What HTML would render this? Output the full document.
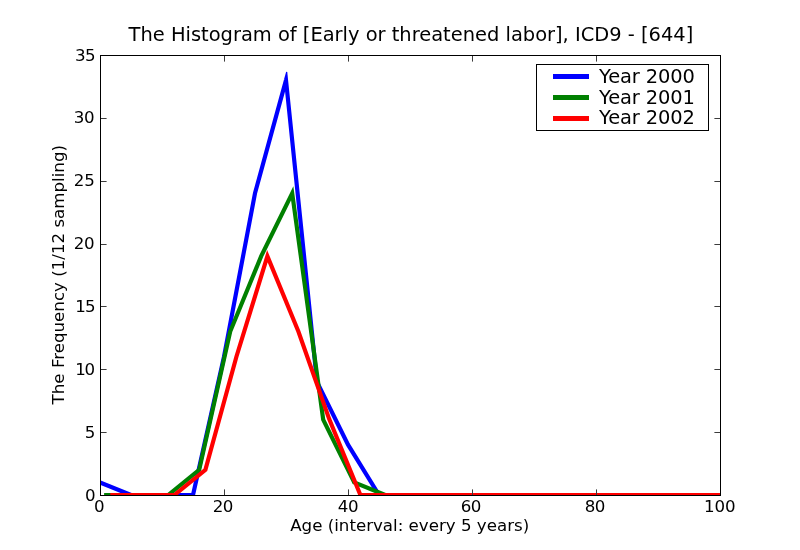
<!DOCTYPE html>
<html lang="en"><head><meta charset="utf-8"><title>The Histogram of [Early or threatened labor], ICD9 - [644]</title>
<style>html,body{margin:0;padding:0;background:#fff;}svg{display:block;will-change:transform;}text{font-family:"DejaVu Sans", "Liberation Sans", sans-serif;fill:#000;}</style></head><body>
<svg width="800" height="550" viewBox="0 0 800 550">
<rect x="0" y="0" width="800" height="550" fill="#ffffff"/>
<defs><clipPath id="ax"><rect x="100" y="55" width="620" height="440"/></clipPath></defs>
<g clip-path="url(#ax)" fill="none" stroke-width="4.17" stroke-linejoin="miter" stroke-miterlimit="4" stroke-linecap="square">
<polyline stroke="#0000ff" points="100.00,482.43 131.00,495.00 162.00,495.00 193.00,495.00 224.00,356.71 255.00,193.29 286.00,80.14 317.00,381.86 348.00,444.71 379.00,495.00 410.00,495.00 441.00,495.00 472.00,495.00 503.00,495.00 534.00,495.00 565.00,495.00 596.00,495.00 627.00,495.00 658.00,495.00 689.00,495.00 720.00,495.00 751.00,495.00"/>
<polygon fill="#0000ff" stroke="none" points="283.99,79.59 286.13,71.79 287.25,71.88 288.07,79.93 286.00,80.14"/>
<polyline stroke="#008000" points="106.20,495.00 137.20,495.00 168.20,495.00 199.20,469.86 230.20,331.57 261.20,256.14 292.20,193.29 323.20,419.57 354.20,482.43 385.20,495.00 416.20,495.00 447.20,495.00 478.20,495.00 509.20,495.00 540.20,495.00 571.20,495.00 602.20,495.00 633.20,495.00 664.20,495.00 695.20,495.00 726.20,495.00"/>
<polyline stroke="#ff0000" points="112.40,495.00 143.40,495.00 174.40,495.00 205.40,469.86 236.40,356.71 267.40,256.14 298.40,331.57 329.40,419.57 360.40,495.00 391.40,495.00 422.40,495.00 453.40,495.00 484.40,495.00 515.40,495.00 546.40,495.00 577.40,495.00 608.40,495.00 639.40,495.00 670.40,495.00 701.40,495.00 732.40,495.00"/>
</g>
<g stroke="#3c3c3c" stroke-width="1" fill="none">
<line x1="100.5" y1="495" x2="100.5" y2="489.4"/>
<line x1="100.5" y1="56" x2="100.5" y2="61.6"/>
<line x1="224.5" y1="495" x2="224.5" y2="489.4"/>
<line x1="224.5" y1="56" x2="224.5" y2="61.6"/>
<line x1="348.5" y1="495" x2="348.5" y2="489.4"/>
<line x1="348.5" y1="56" x2="348.5" y2="61.6"/>
<line x1="472.5" y1="495" x2="472.5" y2="489.4"/>
<line x1="472.5" y1="56" x2="472.5" y2="61.6"/>
<line x1="596.5" y1="495" x2="596.5" y2="489.4"/>
<line x1="596.5" y1="56" x2="596.5" y2="61.6"/>
<line x1="720.5" y1="495" x2="720.5" y2="489.4"/>
<line x1="720.5" y1="56" x2="720.5" y2="61.6"/>
<line x1="101" y1="495.5" x2="106.6" y2="495.5"/>
<line x1="720" y1="495.5" x2="714.4" y2="495.5"/>
<line x1="101" y1="432.5" x2="106.6" y2="432.5"/>
<line x1="720" y1="432.5" x2="714.4" y2="432.5"/>
<line x1="101" y1="369.5" x2="106.6" y2="369.5"/>
<line x1="720" y1="369.5" x2="714.4" y2="369.5"/>
<line x1="101" y1="306.5" x2="106.6" y2="306.5"/>
<line x1="720" y1="306.5" x2="714.4" y2="306.5"/>
<line x1="101" y1="244.5" x2="106.6" y2="244.5"/>
<line x1="720" y1="244.5" x2="714.4" y2="244.5"/>
<line x1="101" y1="181.5" x2="106.6" y2="181.5"/>
<line x1="720" y1="181.5" x2="714.4" y2="181.5"/>
<line x1="101" y1="118.5" x2="106.6" y2="118.5"/>
<line x1="720" y1="118.5" x2="714.4" y2="118.5"/>
<line x1="101" y1="55.5" x2="106.6" y2="55.5"/>
<line x1="720" y1="55.5" x2="714.4" y2="55.5"/>
</g>
<rect x="100.5" y="55.5" width="620" height="440" fill="none" stroke="#000" stroke-width="1" shape-rendering="crispEdges"/>
<g font-size="16.67px">
<text x="99.35" y="511.5" text-anchor="middle" letter-spacing="0">0</text>
<text x="222.85" y="511.5" text-anchor="middle" letter-spacing="-0.6">20</text>
<text x="347.90" y="511.5" text-anchor="middle" letter-spacing="-0.5">40</text>
<text x="470.85" y="511.5" text-anchor="middle" letter-spacing="-0.6">60</text>
<text x="594.85" y="511.5" text-anchor="middle" letter-spacing="-0.6">80</text>
<text x="719.80" y="511.5" text-anchor="middle" letter-spacing="0">100</text>
<text x="95.50" y="501.00" text-anchor="end" letter-spacing="0">0</text>
<text x="95.30" y="438.00" text-anchor="end" letter-spacing="0">5</text>
<text x="94.00" y="375.00" text-anchor="end" letter-spacing="-1.2">10</text>
<text x="94.60" y="312.00" text-anchor="end" letter-spacing="-0.9">15</text>
<text x="94.40" y="249.00" text-anchor="end" letter-spacing="-0.3">20</text>
<text x="94.45" y="186.00" text-anchor="end" letter-spacing="-0.3">25</text>
<text x="94.35" y="123.00" text-anchor="end" letter-spacing="-0.3">30</text>
<text x="95.30" y="61.00" text-anchor="end" letter-spacing="-0.4">35</text>
<text x="409.7" y="530.7" text-anchor="middle">Age (interval: every 5 years)</text>
<text transform="translate(64.3,274.7) rotate(-90)" text-anchor="middle">The Frequency (1/12 sampling)</text>
</g>
<text x="410.9" y="41.4" text-anchor="middle" font-size="19.44px">The Histogram of [Early or threatened labor], ICD9 - [644]</text>
<rect x="536.5" y="64.5" width="172" height="66" fill="#fff" stroke="#000" stroke-width="1" shape-rendering="crispEdges"/>
<g shape-rendering="crispEdges" stroke="none">
<rect x="553" y="74" width="36" height="5" fill="#0000ff"/>
<rect x="553" y="95" width="36" height="5" fill="#008000"/>
<rect x="553" y="116" width="36" height="5" fill="#ff0000"/>
</g>
<g font-size="19.44px" letter-spacing="-0.11">
<text x="599" y="83.00">Year 2000</text>
<text x="599" y="103.90">Year 2001</text>
<text x="599" y="124.20">Year 2002</text>
</g>
</svg></body></html>
